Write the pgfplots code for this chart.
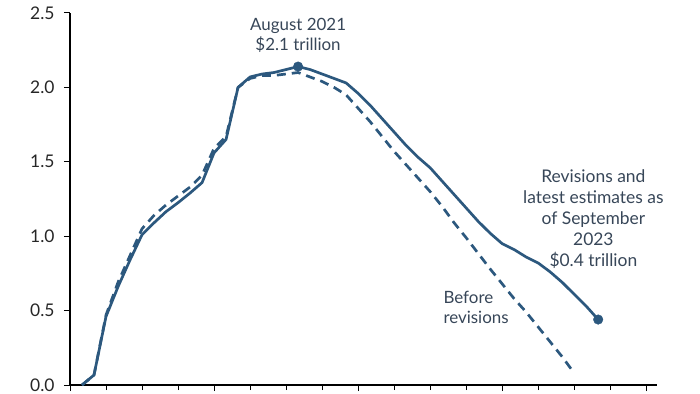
\documentclass[border=0pt]{standalone}
\usepackage{fontspec}
\setmainfont{Lato}
\usepackage{pgfplots}
\pgfplotsset{compat=1.18}
\definecolor{linec}{RGB}{44,88,126}
\definecolor{txt}{RGB}{55,70,88}
\begin{document}
\begin{tikzpicture}
\begin{axis}[
  scale only axis, width=587bp, height=372bp,
  xmin=0, xmax=48.9, ymin=0, ymax=2.5,
  axis x line*=bottom, axis y line*=left,
  axis line style={line width=1.1pt, black},
  ytick={0,0.5,1,1.5,2,2.5},
  yticklabel style={/pgf/number format/fixed, /pgf/number format/fixed zerofill,
    /pgf/number format/precision=1, /pgf/number format/assume math mode=true,
    font=\fontsize{17.5}{20}\selectfont, text=black!85, xshift=-6bp},
  xtick={0,12,24,36,48}, minor xtick={3,6,9,15,18,21,27,30,33,39,42,45},
  xticklabels={},
  tick align=outside, major tick length=6bp, minor tick length=5bp,
  every tick/.style={line width=1pt, black},
  clip=false,
]
\addplot[linec, line width=2.7pt, line join=round] coordinates {
(1,0) (2,0.067) (3,0.46) (4,0.66) (5,0.84) (6,1.01) (7,1.09) (8,1.165)
(9,1.225) (10,1.29) (11,1.36) (12,1.56) (13,1.65) (14,2.00) (15,2.07)
(16,2.09) (17,2.10) (18,2.12) (19,2.14) (20,2.12) (21,2.09) (22,2.06)
(23,2.03) (24,1.96) (25,1.88) (26,1.79) (27,1.70) (28,1.61) (29,1.53)
(30,1.46) (31,1.37) (32,1.28) (33,1.19) (34,1.10) (35,1.02) (36,0.95)
(37,0.91) (38,0.86) (39,0.82) (40,0.76) (41,0.69) (42,0.61) (43,0.53) (44,0.44)
};
\addplot[linec, line width=2.7pt, dash pattern=on 9bp off 6bp, line join=round] coordinates {
(1,0) (2,0.067) (3,0.47) (4,0.69) (5,0.87) (6,1.05) (7,1.14) (8,1.21)
(9,1.27) (10,1.33) (11,1.41) (12,1.59) (13,1.67) (14,2.00) (15,2.06)
(16,2.08) (17,2.08) (18,2.09) (19,2.10) (20,2.07) (21,2.04) (22,2.00)
(23,1.95) (24,1.86) (25,1.77) (26,1.67) (27,1.57) (28,1.48) (29,1.39)
(30,1.30) (31,1.20) (32,1.09) (33,0.99) (34,0.885) (35,0.78) (36,0.68)
(37,0.58) (38,0.49) (39,0.39) (40,0.29) (41,0.19) (42,0.08)
};
\addplot[only marks, mark=*, mark size=4.8bp, linec] coordinates {(19,2.14) (44,0.44)};
\node[align=center, text=txt, font=\fontsize{17}{20}\selectfont] at (axis cs:19,2.35) {August 2021\\\$2.1 trillion};
\node[align=center, text=txt, font=\fontsize{17.5}{21}\selectfont] at (axis cs:43.6,1.115) {Revisions and\\latest estimates as\\of September\\2023\\\$0.4 trillion};
\node[align=left, anchor=west, inner sep=0pt, text=txt, font=\fontsize{17}{20}\selectfont] at (axis cs:31.1,0.524) {Before\\revisions};
\end{axis}
\pgfresetboundingbox
\path[use as bounding box] (-70bp,-9bp) rectangle (630bp,385bp);
\end{tikzpicture}
\end{document}
